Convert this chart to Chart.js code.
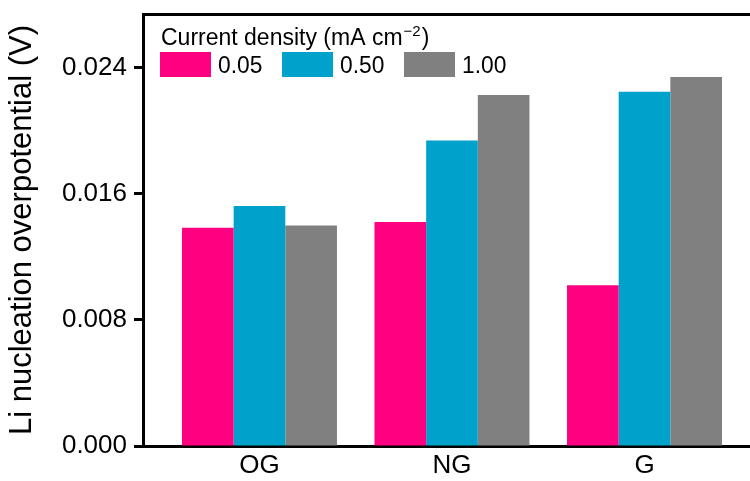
<!DOCTYPE html>
<html>
<head>
<meta charset="utf-8">
<script src="https://cdn.jsdelivr.net/npm/chart.js@4/dist/chart.umd.min.js"></script>
<style>
  html, body { margin: 0; padding: 0; background: #fff; }
  #wrap { width: 750px; height: 481px; }
</style>
</head>
<body>
<div id="wrap"><canvas id="chart1"></canvas></div>
<script>
// Li nucleation overpotential for each carbon host, grouped by current density
const samples = ['OG', 'NG', 'G'];
const densities = ['0.05', '0.50', '1.00'];
const v005 = [0.01384, 0.01420, 0.01019];
const v050 = [0.01522, 0.01938, 0.02247];
const v100 = [0.01399, 0.02226, 0.02340];
const yTicks = [0, 0.008, 0.016, 0.024];

const colors = ['#ff0080', '#00a2cc', '#808080'];
const font = "'Liberation Sans', Arial, sans-serif";

function points(vals) {
    // bars sit at x = 1, 2, 3 on a linear axis
    return vals.map((v, i) => ({ x: i + 1, y: v }));
}

// text with a horizontal squeeze factor, returns the drawn width
function squeezed(c, text, x, y, size, sx) {
    c.save();
    c.font = size + 'px ' + font;
    c.translate(x, y);
    c.scale(sx, 1);
    c.fillText(text, 0, 0);
    const w = c.measureText(text).width * sx;
    c.restore();
    return w;
}

// legend drawn inside the plot, top-left, in one row under its title
const insideLegend = {
    id: 'insideLegend',
    afterDraw(chart) {
        const c = chart.ctx;
        const a = chart.chartArea;
        c.save();
        c.fillStyle = '#000';
        c.textBaseline = 'alphabetic';
        let x = a.left + 18;
        const ty = a.top + 31;
        x += squeezed(c, 'Current density (mA cm', x, ty, 23, 1.0);
        x += 1;
        x += squeezed(c, '\u22122', x, ty - 9, 15, 1.0);
        x += 1;
        squeezed(c, ')', x, ty, 23, 1.0);

        chart.data.datasets.forEach((ds, i) => {
            const bx = a.left + 17 + i * 122;
            c.fillStyle = ds.backgroundColor;
            c.fillRect(bx, a.top + 38, 51, 25);
            c.fillStyle = '#000';
            squeezed(c, ds.label, bx + 58, a.top + 59, 24, 0.95);
        });
        c.restore();
    }
};

const series = [v005, v050, v100];

const ctx = document.getElementById('chart1').getContext('2d');
const myChart = new Chart(ctx, {
    type: 'bar',
    data: {
        datasets: series.map((vals, i) => ({
            label: densities[i],
            data: points(vals),
            backgroundColor: colors[i],
            borderWidth: 0,
            categoryPercentage: 0.805,
            barPercentage: 1.0
        }))
    },
    plugins: [insideLegend],
    options: {
        responsive: true,
        maintainAspectRatio: false,
        animation: false,
        layout: { padding: { top: 14, left: 0, right: 0, bottom: 0 } },
        plugins: {
            tooltip: { enabled: false },
            legend: { display: false }
        },
        scales: {
            x: {
                type: 'linear',
                position: 'bottom',
                offset: false,
                min: 0.395,
                max: 3.548,
                afterBuildTicks: axis => { axis.ticks = samples.map((s, i) => ({ value: i + 1 })); },
                afterFit: axis => { axis.height = 35; },
                grid: { display: false, drawTicks: false, offset: false },
                border: { display: true, width: 3, color: '#000' },
                ticks: {
                    color: '#000',
                    font: { family: font, size: 26 },
                    padding: 4,
                    maxRotation: 0,
                    callback: v => samples[v - 1]
                }
            },
            x2: {
                type: 'linear',
                position: 'top',
                offset: false,
                min: 0.395,
                max: 3.548,
                afterFit: axis => { axis.height = 0; },
                grid: { display: false, drawTicks: false },
                border: { display: true, width: 3, color: '#000' },
                ticks: { display: false }
            },
            y: {
                min: 0,
                max: 0.0274,
                afterBuildTicks: axis => { axis.ticks = yTicks.map(v => ({ value: v })); },
                afterFit: axis => {
                    axis.width = 143;
                    axis.paddingTop = 0;
                    axis.paddingBottom = 0;
                },
                grid: {
                    display: true,
                    drawOnChartArea: false,
                    drawTicks: true,
                    tickLength: 9,
                    tickWidth: 3,
                    tickColor: '#000'
                },
                border: { display: true, width: 3, color: '#000' },
                ticks: {
                    color: '#000',
                    font: { family: font, size: 26 },
                    padding: 7,
                    callback: v => v.toFixed(3)
                },
                title: {
                    display: true,
                    text: 'Li nucleation overpotential (V)',
                    color: '#000',
                    font: { family: font, size: 31 },
                    padding: { top: 4, bottom: 0 }
                }
            }
        }
    }
});
</script>
</body>
</html>
